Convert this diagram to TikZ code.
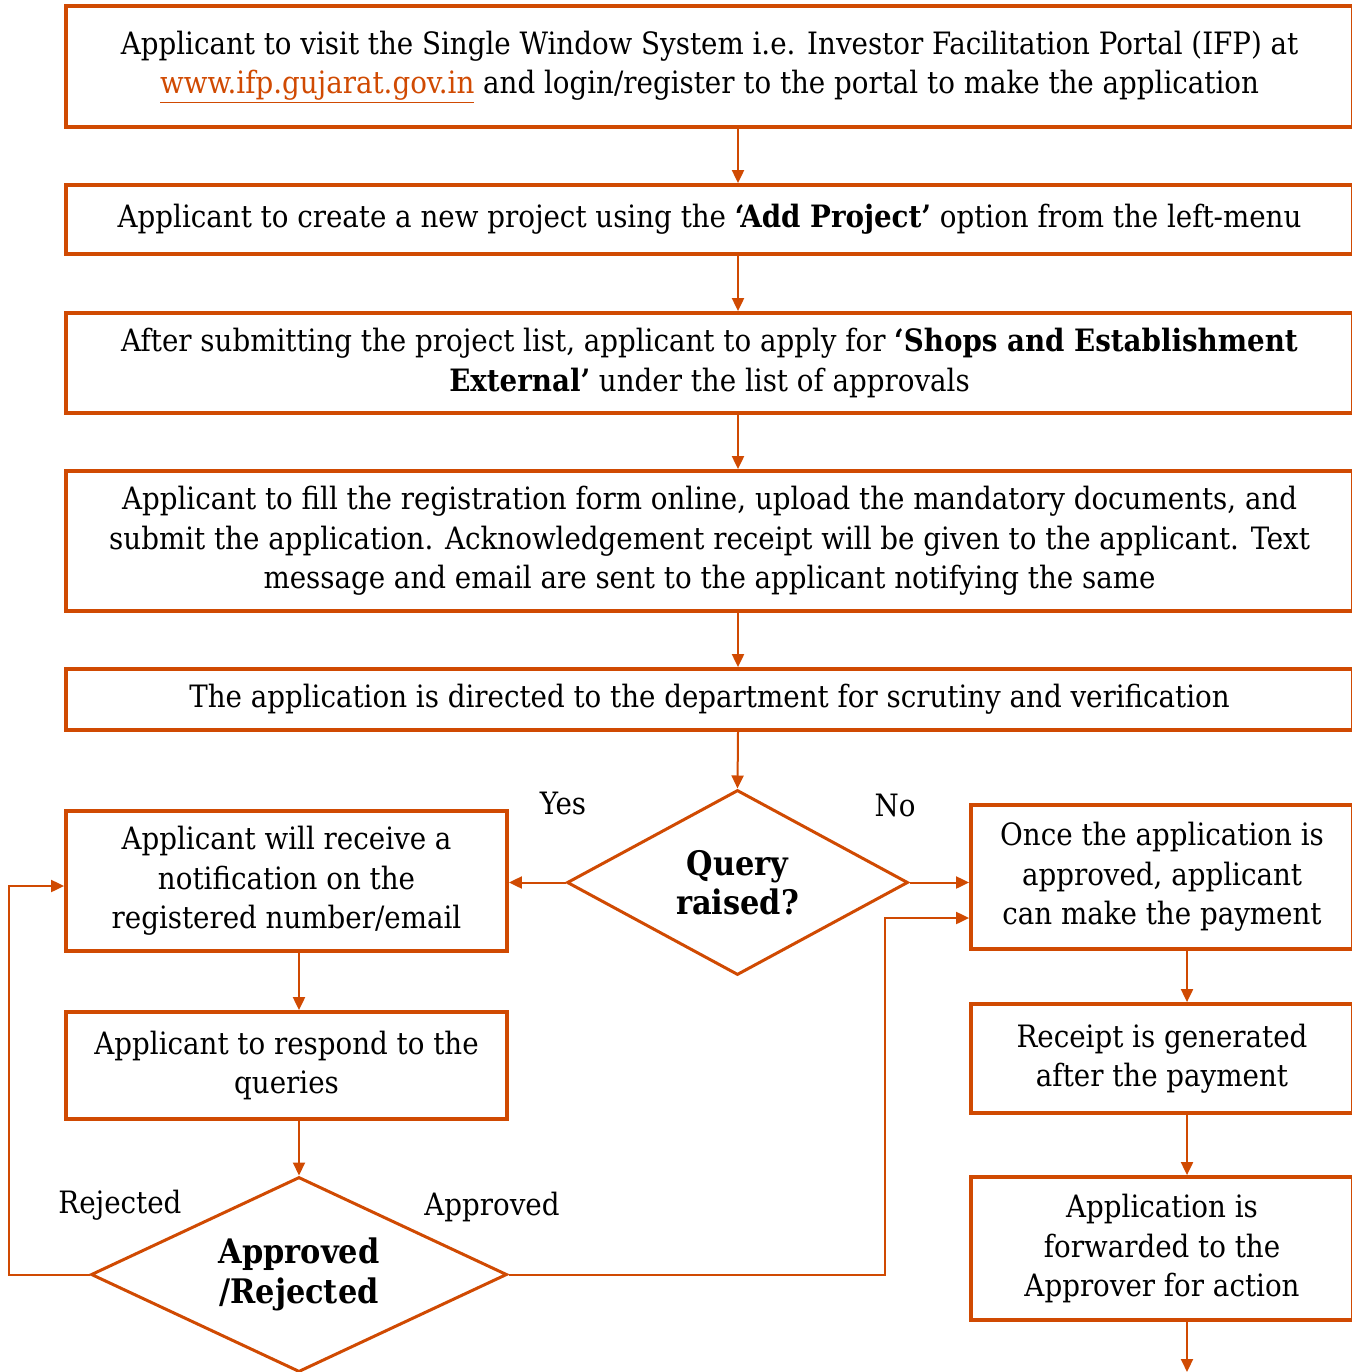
\documentclass[tikz,border=0pt]{standalone}
\usepackage{fontspec}
\setmainfont{DejaVu Serif Condensed}
\usetikzlibrary{arrows.meta,shapes.geometric}
\definecolor{pwc}{RGB}{208,74,2}
\newcommand{\fsz}{\fontsize{30.8}{39.5}\selectfont}
\newcommand{\fszd}{\fontsize{33.8}{39.5}\selectfont}
\begin{document}
\begin{tikzpicture}[x=1pt,y=-1pt,
  box/.style={draw=pwc,line width=3.8pt,align=center,inner sep=0pt,font=\fsz,text=black},
  dec/.style={draw=pwc,line width=3pt,shape=diamond,inner sep=0pt,align=center,font=\fszd\bfseries},
  lbl/.style={font=\fsz,inner sep=0pt},
  arr/.style={draw=pwc,line width=2pt,-{Triangle[length=13pt,width=12pt]}},
  conn/.style={draw=pwc,line width=2pt}]
\useasboundingbox (0,0) rectangle (1351,1372);
\node[box,minimum width=1287,minimum height=121] (b1) at (709.5,66.5)
  {Applicant to visit the Single Window System i.e. Investor Facilitation Portal (IFP) at\\
   {\color{pwc}\underline{www.ifp.gujarat.gov.in}} and login/register to the portal to make the application};
\node[box,minimum width=1287,minimum height=69] (b2) at (709.5,219.5)
  {Applicant to create a new project using the \textbf{‘Add Project’} option from the left-menu};
\node[box,minimum width=1287,minimum height=100] (b3) at (709.5,363)
  {After submitting the project list, applicant to apply for \textbf{‘Shops and Establishment}\\
   \textbf{External’} under the list of approvals};
\node[box,minimum width=1287,minimum height=140] (b4) at (709.5,541)
  {Applicant to fill the registration form online, upload the mandatory documents, and\\
   submit the application. Acknowledgement receipt will be given to the applicant. Text\\
   message and email are sent to the applicant notifying the same};
\node[box,minimum width=1287,minimum height=61] (b5) at (709.5,699.5)
  {The application is directed to the department for scrutiny and verification};
\node[dec,minimum width=341,minimum height=185,aspect=1.84] (q) at (737.5,882.5)
  {Query\\raised?};
\node[box,minimum width=441,minimum height=140] (ba) at (286.5,881)
  {Applicant will receive a\\notification on the\\registered number/email};
\node[box,minimum width=382,minimum height=144] (bb) at (1162,877)
  {Once the application is\\approved, applicant\\can make the payment};
\node[box,minimum width=441,minimum height=107] (bc) at (286.5,1065.5)
  {Applicant to respond to the\\queries};
\node[dec,minimum width=416,minimum height=195,aspect=2.1] (ar) at (299,1274.5)
  {Approved\\/Rejected};
\node[box,minimum width=382,minimum height=109] (bd) at (1162,1058.5)
  {Receipt is generated\\after the payment};
\node[box,minimum width=382,minimum height=143] (be) at (1162,1248.5)
  {Application is\\forwarded to the\\Approver for action};
\node[lbl] (yes) at (563,803) {Yes};
\node[lbl] (no) at (895,805) {No};
\node[lbl] (rej) at (120,1205) {Rejected};
\node[lbl] (app) at (492,1207) {Approved};
\coordinate (sp) at (738,0);
\coordinate (rs) at (1187,0);
\coordinate (lx) at (9,886);
\coordinate (rx) at (885,918);
\coordinate (end) at (1187,1372);
\draw[arr] (b1.south -| sp) -- (b2.north -| sp);
\draw[arr] (b2.south -| sp) -- (b3.north -| sp);
\draw[arr] (b3.south -| sp) -- (b4.north -| sp);
\draw[arr] (b4.south -| sp) -- (b5.north -| sp);
\draw[arr] (b5.south -| sp) -- (q.north);
\draw[arr] (q.west) -- (q.west -| ba.east);
\draw[arr] (q.east) -- (q.east -| bb.west);
\draw[arr] (ba.south -| ar.north) -- (bc.north -| ar.north);
\draw[arr] (bc.south -| ar.north) -- (ar.north);
\draw[arr] (ar.west) -| (lx) -- (lx -| ba.west);
\draw[arr] (ar.east) -| (rx) -- (rx -| bb.west);
\draw[arr] (bb.south -| rs) -- (bd.north -| rs);
\draw[arr] (bd.south -| rs) -- (be.north -| rs);
\draw[arr] (be.south -| rs) -- (end);
\end{tikzpicture}
\end{document}
